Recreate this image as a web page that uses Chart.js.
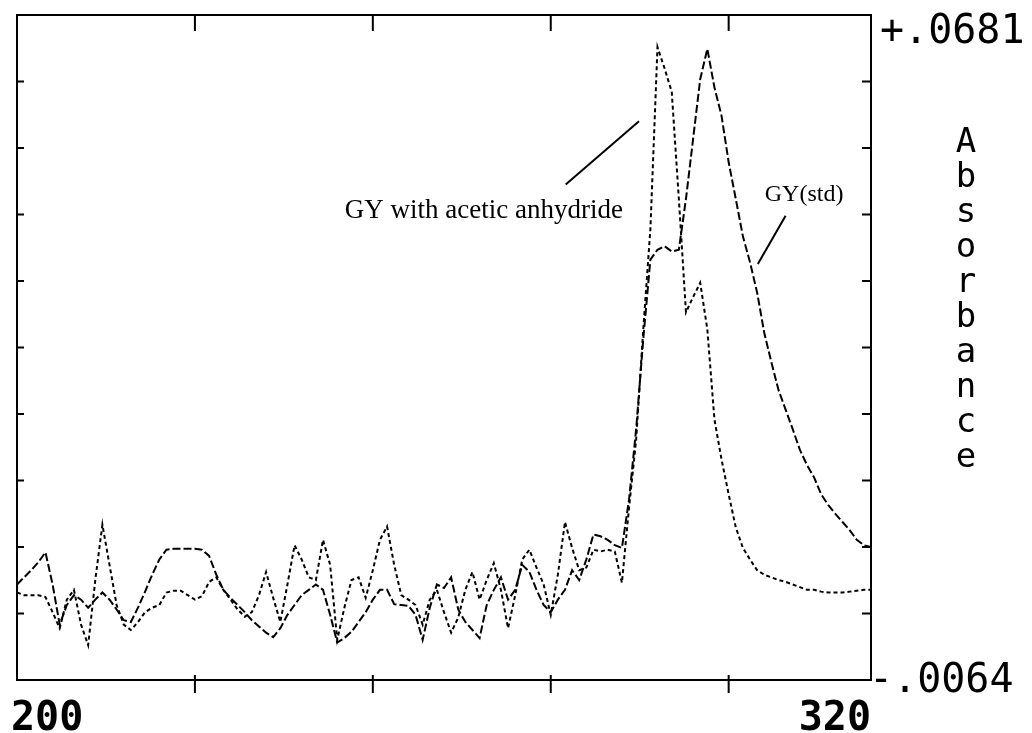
<!DOCTYPE html>
<html lang="en">
<head>
<meta charset="UTF-8">
<title>GY absorbance spectrum</title>
<script src="https://cdn.jsdelivr.net/npm/chart.js"></script>
<style>
  body { margin: 0; background: #fff; }
  canvas { display: block; }
</style>
</head>
<body>
<canvas id="grafica" width="1032" height="733"></canvas>
<script>
// wavelength (nm)
const wavelengths = [
  200, 201, 202, 203, 204, 205, 206, 207, 208, 209, 210, 211, 212, 213, 214, 215, 216, 217, 218, 219,
  220, 221, 222, 223, 224, 225, 226, 227, 228, 229, 230, 231, 232, 233, 234, 235, 236, 237, 238, 239,
  240, 241, 242, 243, 244, 245, 246, 247, 248, 249, 250, 251, 252, 253, 254, 255, 256, 257, 258, 259,
  260, 261, 262, 263, 264, 265, 266, 267, 268, 269, 270, 271, 272, 273, 274, 275, 276, 277, 278, 279,
  280, 281, 282, 283, 284, 285, 286, 287, 288, 289, 290, 291, 292, 293, 294, 295, 296, 297, 298, 299,
  300, 301, 302, 303, 304, 305, 306, 307, 308, 309, 310, 311, 312, 313, 314, 315, 316, 317, 318, 319,
  320
];

// GY(std) absorbance
const gyStd = [
  0.0043, 0.0051, 0.0059, 0.0068, 0.0079, 0.0043, -0.0002, 0.0020, 0.0031, 0.0026,
  0.0017, 0.0026, 0.0034, 0.0026, 0.0015, 0.0003, 0.0001, 0.0017, 0.0035, 0.0054,
  0.0071, 0.0082, 0.0083, 0.0083, 0.0083, 0.0083, 0.0082, 0.0075, 0.0054, 0.0037,
  0.0028, 0.0020, 0.0012, 0.0003, -0.0004, -0.0011, -0.0016, -0.0006, 0.0009, 0.0020,
  0.0031, 0.0037, 0.0043, 0.0037, 0.0009, -0.0022, -0.0017, -0.0010, 0.0001, 0.0012,
  0.0026, 0.0037, 0.0037, 0.0021, 0.0020, 0.0019, 0.0009, -0.0019, 0.0017, 0.0043,
  0.0039, 0.0051, 0.0015, 0.0001, -0.0008, -0.0017, 0.0020, 0.0037, 0.0051, 0.0026,
  0.0037, 0.0065, 0.0057, 0.0037, 0.0020, 0.0012, 0.0026, 0.0037, 0.0059, 0.0048,
  0.0071, 0.0099, 0.0097, 0.0093, 0.0087, 0.0084, 0.0138, 0.0217, 0.0318, 0.0407,
  0.0418, 0.0422, 0.0416, 0.0418, 0.0475, 0.0542, 0.0609, 0.0643, 0.0600, 0.0568,
  0.0516, 0.0475, 0.0433, 0.0404, 0.0370, 0.0325, 0.0292, 0.0261, 0.0239, 0.0217,
  0.0194, 0.0177, 0.0163, 0.0144, 0.0132, 0.0122, 0.0113, 0.0104, 0.0093, 0.0087,
  0.0085
];

// GY with acetic anhydride absorbance
const gyAcetic = [
  0.0034, 0.0031, 0.0031, 0.0031, 0.0029, 0.0012, -0.0006, 0.0026, 0.0037, -0.0002,
  -0.0025, 0.0048, 0.0110, 0.0065, 0.0020, -0.0002, -0.0008, 0.0001, 0.0012, 0.0017,
  0.0020, 0.0034, 0.0036, 0.0036, 0.0031, 0.0026, 0.0030, 0.0046, 0.0051, 0.0037,
  0.0026, 0.0015, 0.0007, 0.0012, 0.0031, 0.0057, 0.0028, 0.0001, 0.0043, 0.0087,
  0.0071, 0.0051, 0.0048, 0.0093, 0.0065, -0.0019, 0.0017, 0.0048, 0.0051, 0.0028,
  0.0059, 0.0093, 0.0108, 0.0065, 0.0031, 0.0026, 0.0020, -0.0002, 0.0026, 0.0037,
  0.0012, -0.0011, 0.0006, 0.0037, 0.0057, 0.0026, 0.0048, 0.0067, 0.0037, -0.0006,
  0.0031, 0.0071, 0.0082, 0.0062, 0.0043, 0.0009, 0.0054, 0.0113, 0.0084, 0.0059,
  0.0062, 0.0082, 0.0080, 0.0082, 0.0080, 0.0045, 0.0129, 0.0205, 0.0329, 0.0441,
  0.0645, 0.0621, 0.0595, 0.0475, 0.0348, 0.0365, 0.0381, 0.0329, 0.0228, 0.0183,
  0.0144, 0.0107, 0.0084, 0.0071, 0.0059, 0.0054, 0.0051, 0.0048, 0.0046, 0.0043,
  0.0040, 0.0037, 0.0037, 0.0035, 0.0034, 0.0034, 0.0034, 0.0035, 0.0036, 0.0037,
  0.0037
];

const xMin = 200, xMax = 320;
const yMin = -0.0064, yMax = 0.0681;
const xTicks = [225, 250, 275, 300];
const yDivisions = 10;
const xTickLabels = ['200', '320'];
const yTickLabels = ['+.0681', '-.0064'];
const yTitle = 'Absorbance';

// callouts, anchored in data units
const calloutAcetic = { text: 'GY with acetic anhydride', size: 27, x: 265.6, y: 0.0461, from: [277.1, 0.0491], to: [287.4, 0.0562] };
const calloutStd = { text: 'GY(std)', size: 24, x: 310.6, y: 0.0480, from: [308.0, 0.0456], to: [304.1, 0.0402] };

const marco = {
  id: 'marco',
  afterDraw(chart) {
    const { ctx, chartArea: a, scales: { x, y } } = chart;
    ctx.save();
    ctx.strokeStyle = '#000';
    ctx.fillStyle = '#000';
    ctx.lineWidth = 2;
    ctx.setLineDash([]);
    ctx.strokeRect(a.left, a.top, a.right - a.left, a.bottom - a.top);

    ctx.beginPath();
    xTicks.forEach(v => {
      const px = x.getPixelForValue(v);
      ctx.moveTo(px, a.top); ctx.lineTo(px, a.top + 16);
      ctx.moveTo(px, a.bottom - 5); ctx.lineTo(px, a.bottom + 13);
    });
    for (let k = 1; k < yDivisions; k++) {
      const py = y.getPixelForValue(yMin + (yMax - yMin) * k / yDivisions);
      ctx.moveTo(a.left, py); ctx.lineTo(a.left + 7, py);
      ctx.moveTo(a.right - 9, py); ctx.lineTo(a.right, py);
    }
    ctx.stroke();

    // axis end labels
    ctx.font = 'bold 40px "DejaVu Sans Mono"';
    ctx.textBaseline = 'alphabetic';
    ctx.textAlign = 'left';
    ctx.fillText(xTickLabels[0], x.getPixelForValue(xMin) - 6, a.bottom + 50);
    ctx.textAlign = 'right';
    ctx.fillText(xTickLabels[1], x.getPixelForValue(xMax), a.bottom + 50);

    ctx.font = '40px "DejaVu Sans Mono"';
    ctx.textAlign = 'left';
    ctx.fillText(yTickLabels[0], a.right + 9, y.getPixelForValue(yMax) + 28);
    ctx.fillText(yTickLabels[1], a.right - 2, y.getPixelForValue(yMin) + 12);

    // stacked axis title
    ctx.font = '34px "DejaVu Sans Mono"';
    ctx.textAlign = 'center';
    ctx.textBaseline = 'middle';
    [...yTitle].forEach((ch, i) => ctx.fillText(ch, 966, 143 + i * 35));

    // callouts
    ctx.lineWidth = 2;
    [calloutAcetic, calloutStd].forEach(c => {
      ctx.font = c.size + 'px "Liberation Serif"';
      ctx.fillText(c.text, x.getPixelForValue(c.x), y.getPixelForValue(c.y));
      ctx.beginPath();
      ctx.moveTo(x.getPixelForValue(c.from[0]), y.getPixelForValue(c.from[1]));
      ctx.lineTo(x.getPixelForValue(c.to[0]), y.getPixelForValue(c.to[1]));
      ctx.stroke();
    });
    ctx.restore();
  }
};

const puntos = serie => wavelengths.map((w, i) => ({ x: w, y: serie[i] }));

new Chart(document.getElementById('grafica').getContext('2d'), {
  type: 'line',
  data: {
    datasets: [
      {
        label: 'GY(std)',
        data: puntos(gyStd),
        borderColor: '#000',
        borderWidth: 2,
        borderDash: [8, 3],
        pointRadius: 0,
        tension: 0
      },
      {
        label: 'GY with acetic anhydride',
        data: puntos(gyAcetic),
        borderColor: '#000',
        borderWidth: 2,
        borderDash: [4, 3],
        pointRadius: 0,
        tension: 0
      }
    ]
  },
  options: {
    responsive: false,
    animation: false,
    layout: { padding: { left: 17, top: 15, right: 161, bottom: 53 } },
    plugins: { legend: { display: false }, tooltip: { enabled: false } },
    scales: {
      x: { type: 'linear', min: xMin, max: xMax, display: false },
      y: { type: 'linear', min: yMin, max: yMax, display: false }
    }
  },
  plugins: [marco]
});
</script>
</body>
</html>
